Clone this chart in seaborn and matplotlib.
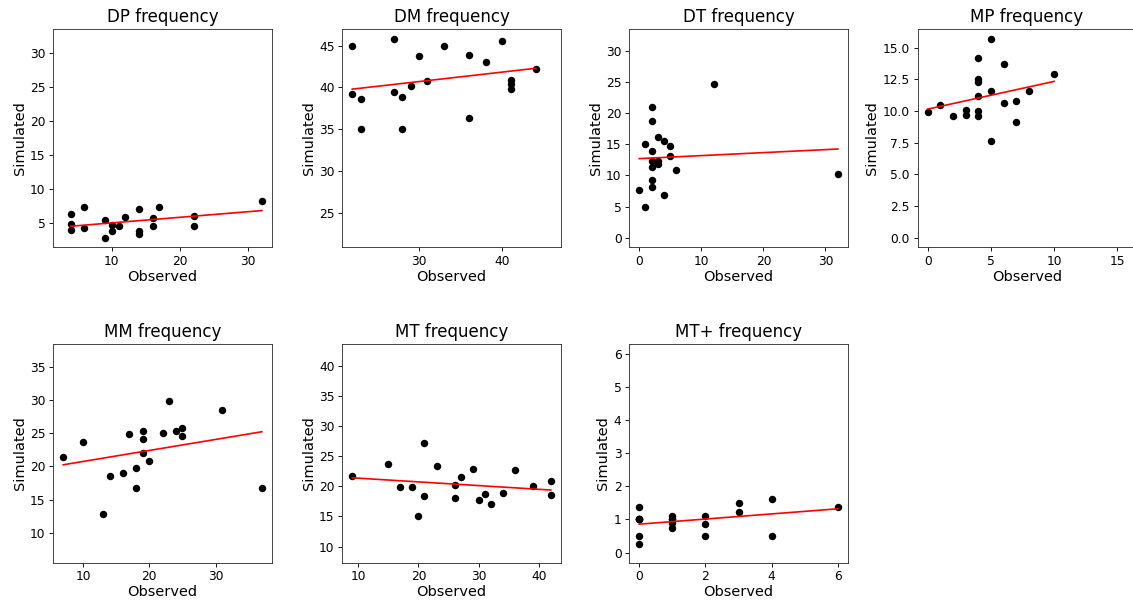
import numpy as np
import matplotlib
matplotlib.use("Agg")
import matplotlib.pyplot as plt
import seaborn as sns

titles = ["DP frequency", "DM frequency", "DT frequency", "MP frequency",
          "MM frequency", "MT frequency", "MT+ frequency"]

dp_obs = [4, 4, 4, 6, 6, 9, 9, 10, 10, 11, 12, 14, 14, 14, 16, 16, 17, 22, 22, 32]
dp_sim = [6.3, 4.9, 4.0, 7.35, 4.26, 5.5, 2.9, 4.8, 3.8, 4.6, 5.9, 7.1, 3.8, 3.4, 5.7, 4.6, 7.35, 6.1, 4.6, 8.3]

dm_obs = [22, 22, 23, 23, 27, 27, 28, 28, 29, 30, 31, 33, 36, 36, 38, 40, 41, 41, 41, 44]
dm_sim = [44.9, 39.2, 38.6, 35.0, 45.8, 39.4, 38.9, 35.0, 40.2, 43.7, 40.7, 44.9, 43.9, 36.3, 43.0, 45.6, 40.9, 40.4, 39.8, 42.2]

dt_obs = [0, 1, 1, 2, 2, 2, 2, 2, 2, 2, 3, 3, 3, 4, 4, 5, 5, 6, 12, 32]
dt_sim = [7.7, 4.9, 15.0, 21.1, 18.8, 14.0, 12.3, 11.3, 9.3, 8.1, 16.2, 12.3, 11.9, 15.5, 6.8, 14.7, 13.2, 10.9, 24.7, 10.2]

mp_obs = [0, 1, 2, 3, 3, 4, 4, 4, 4, 4, 4, 5, 5, 5, 6, 6, 7, 7, 8, 10]
mp_sim = [9.9, 10.5, 9.6, 10.1, 9.7, 14.2, 12.5, 12.3, 11.2, 10.0, 9.6, 15.7, 11.6, 7.6, 13.7, 10.6, 10.8, 9.1, 11.6, 12.9]

mm_obs = [7, 10, 13, 14, 16, 17, 18, 18, 19, 19, 19, 20, 22, 23, 24, 25, 25, 31, 37]
mm_sim = [21.5, 23.7, 12.8, 18.6, 19.0, 24.9, 19.8, 16.8, 25.3, 24.2, 22.0, 20.8, 25.1, 29.9, 25.4, 25.8, 24.6, 28.6, 16.7]

mt_obs = [9, 15, 17, 19, 20, 21, 21, 23, 26, 26, 27, 29, 30, 31, 32, 34, 36, 39, 42, 42]
mt_sim = [21.7, 23.7, 19.9, 19.9, 15.0, 27.2, 18.4, 23.3, 20.3, 18.0, 21.5, 22.9, 17.7, 18.7, 17.0, 18.9, 22.7, 20.1, 20.9, 18.5]

# several observations overlap exactly (e.g. at 0 / 1.0)
mtp_obs = [0, 0, 0, 0, 0, 0, 0, 1, 1, 1, 1, 1, 2, 2, 2, 3, 3, 4, 4, 6]
mtp_sim = [1.37, 1.0, 1.0, 1.0, 1.0, 0.5, 0.25, 1.1, 1.0, 1.0, 0.9, 0.75, 1.1, 0.87, 0.5, 1.5, 1.24, 1.61, 0.5, 1.37]

observed = [dp_obs, dm_obs, dt_obs, mp_obs, mm_obs, mt_obs, mtp_obs]
simulated = [dp_sim, dm_sim, dt_sim, mp_sim, mm_sim, mt_sim, mtp_sim]

W, H = 1133, 606
fig = plt.figure(figsize=(W / 80, H / 80), dpi=80)

col_left = [53.3, 342.3, 629.3, 917.7]
row_top = [29, 344]
size = 218.5

for i, (title, xo, ys) in enumerate(zip(titles, observed, simulated)):
    r, c = divmod(i, 4)
    left = col_left[c]
    top = row_top[r]
    ax = fig.add_axes([left / W, 1 - (top + size) / H, size / W, size / H])
    xo = np.asarray(xo, dtype=float)
    ys = np.asarray(ys, dtype=float)
    sns.regplot(x=xo, y=ys, ax=ax, ci=None, truncate=True,
                scatter_kws=dict(color="black", s=45, alpha=1, linewidths=0),
                line_kws=dict(color="red", lw=1.5))
    lo = min(xo.min(), ys.min())
    hi = max(xo.max(), ys.max())
    pad = 0.05 * (hi - lo)
    ax.set_xlim(lo - pad, hi + pad)
    ax.set_ylim(lo - pad, hi + pad)
    ax.set_title(title, fontsize=15)
    ax.set_xlabel("Observed", fontsize=13, labelpad=2)
    ax.set_ylabel("Simulated", fontsize=13, labelpad=3)
    ax.tick_params(labelsize=11)
    for sp in ax.spines.values():
        sp.set_color("#333333")

fig.savefig("out.png", dpi=80)
